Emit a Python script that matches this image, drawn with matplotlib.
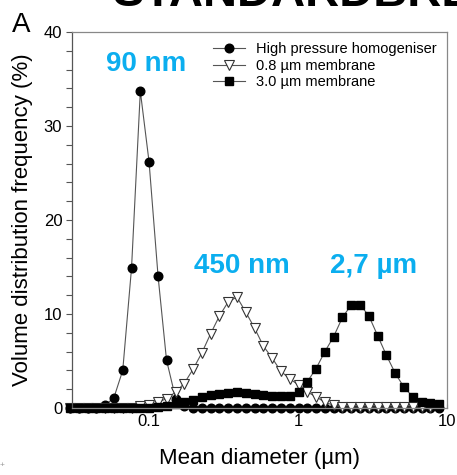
import numpy as np
import matplotlib
matplotlib.use("Agg")
from matplotlib import pyplot as plt

plt.rcParams["font.family"] = ["Liberation Sans", "DejaVu Sans"]

# particle size classes (um)
diam = [0.0295, 0.0338, 0.0387, 0.0443, 0.0508, 0.0581, 0.0666, 0.0763, 0.0874,
        0.100, 0.115, 0.131, 0.151, 0.172, 0.197, 0.226, 0.259, 0.297, 0.340,
        0.389, 0.446, 0.511, 0.585, 0.671, 0.768, 0.880, 1.008, 1.154, 1.322,
        1.515, 1.735, 1.988, 2.277, 2.609, 2.988, 3.423, 3.922, 4.492, 5.146,
        5.895, 6.753, 7.736, 8.862]

nan = float("nan")

homog = [0, 0, 0, 0, 0.3, 1.1, 4.0, 14.9, 33.7, 26.2, 14.0, 5.1, 1.0, 0.2,
         0, 0, 0, 0, 0, 0, 0, 0, 0, 0, 0, 0, 0, 0, 0, 0, 0, 0, 0, 0, 0, 0,
         0, 0, 0, 0, 0, 0, 0]

memb08 = [0, 0, 0, 0, 0, 0, 0, 0, 0.2, 0.35, 0.6, 1.0, 1.7, 2.6, 4.1, 5.85,
          7.9, 9.8, 11.3, 11.8, 10.2, 8.5, 6.6, 5.3, 3.9, 3.1, 2.45, 1.7, 1.2,
          0.6, 0.3, 0.1, 0.1, 0.1, 0.1, 0.1, 0.1, 0.1, 0.1, 0.1, 0.1, 0.1, nan]

memb30 = [0, 0, 0, 0, 0, 0, 0, 0, 0, 0, 0.1, 0.25, 0.45, 0.65, 0.9, 1.15,
          1.35, 1.5, 1.6, 1.65, 1.6, 1.5, 1.4, 1.3, 1.25, 1.3, 1.7, 2.8, 4.2,
          6.0, 7.6, 9.65, 10.96, 11.0, 9.8, 7.7, 5.6, 3.7, 2.2, 1.2, 0.67, 0.5,
          0.4]

labels = ["High pressure homogeniser", "0.8 \u00b5m membrane", "3.0 \u00b5m membrane"]
peak_labels = ["90 nm", "450 nm", "2,7 \u00b5m"]
blue = "#0BAEEF"

fig = plt.figure(figsize=(4.57, 4.75), dpi=100)
ax = fig.add_axes([72 / 457, 1 - 408 / 475, 375 / 457, 376 / 475])

line_kw = dict(color="#555555", lw=0.8, clip_on=False)
ax.plot(diam, homog, marker="o", ms=6.2, mfc="black", mec="black", label=labels[0], **line_kw)
ax.plot(diam, memb08, marker="v", ms=6.5, mfc="white", mec="#333333", mew=0.8, label=labels[1], **line_kw)
ax.plot(diam, memb30, marker="s", ms=5.2, mfc="black", mec="black", label=labels[2], **line_kw)

ax.set_xscale("log")
ax.set_xlim(0.0304, 10)
ax.set_ylim(0, 40)
ax.set_xticks([0.1, 1, 10])
ax.set_xticklabels(["0.1", "1", "10"])
ax.xaxis.set_minor_locator(matplotlib.ticker.NullLocator())
ax.set_yticks([0, 10, 20, 30, 40])
ax.set_yticks(np.arange(0, 41, 2), minor=True)

for s in ax.spines.values():
    s.set_color("#888888")
    s.set_linewidth(0.9)
ax.spines["left"].set_color("#555555")

ax.tick_params(axis="y", which="both", direction="out", length=4, width=0.8,
               color="#555555", labelsize=12, pad=3, right=False)
ax.tick_params(axis="x", which="both", direction="in", length=3, width=0.8,
               color="#555555", labelsize=12, pad=4, top=False)

ax.set_xlabel("Mean diameter (\u00b5m)", fontsize=16, labelpad=14)
ax.set_ylabel("Volume distribution frequency (%)", fontsize=16, labelpad=8)

ax.legend(loc="upper left", bbox_to_anchor=(206 / 457, 1 - 35 / 475),
          bbox_transform=fig.transFigure, frameon=False, borderpad=0,
          handlelength=2.2, handletextpad=0.7, labelspacing=0.17, fontsize=10.5)

# peak annotations
ax.text(0.0955, 35.9, peak_labels[0], color=blue, fontsize=20, weight="bold", ha="center", va="baseline")
ax.text(0.42, 14.4, peak_labels[1], color=blue, fontsize=20, weight="bold", ha="center", va="baseline")
ax.text(3.2, 14.4, peak_labels[2], color=blue, fontsize=20, weight="bold", ha="center", va="baseline")

fig.text(12 / 457, 1 - 32 / 475, "A", fontsize=20, va="baseline")
fig.text(113 / 457, 1 - 6 / 475, "STANDARDBREDDE", fontsize=34, weight="bold", va="baseline")
fig.text(0, 1 - 467 / 475, "+", fontsize=6, color="#999999")

fig.savefig("out.png", dpi=100)
